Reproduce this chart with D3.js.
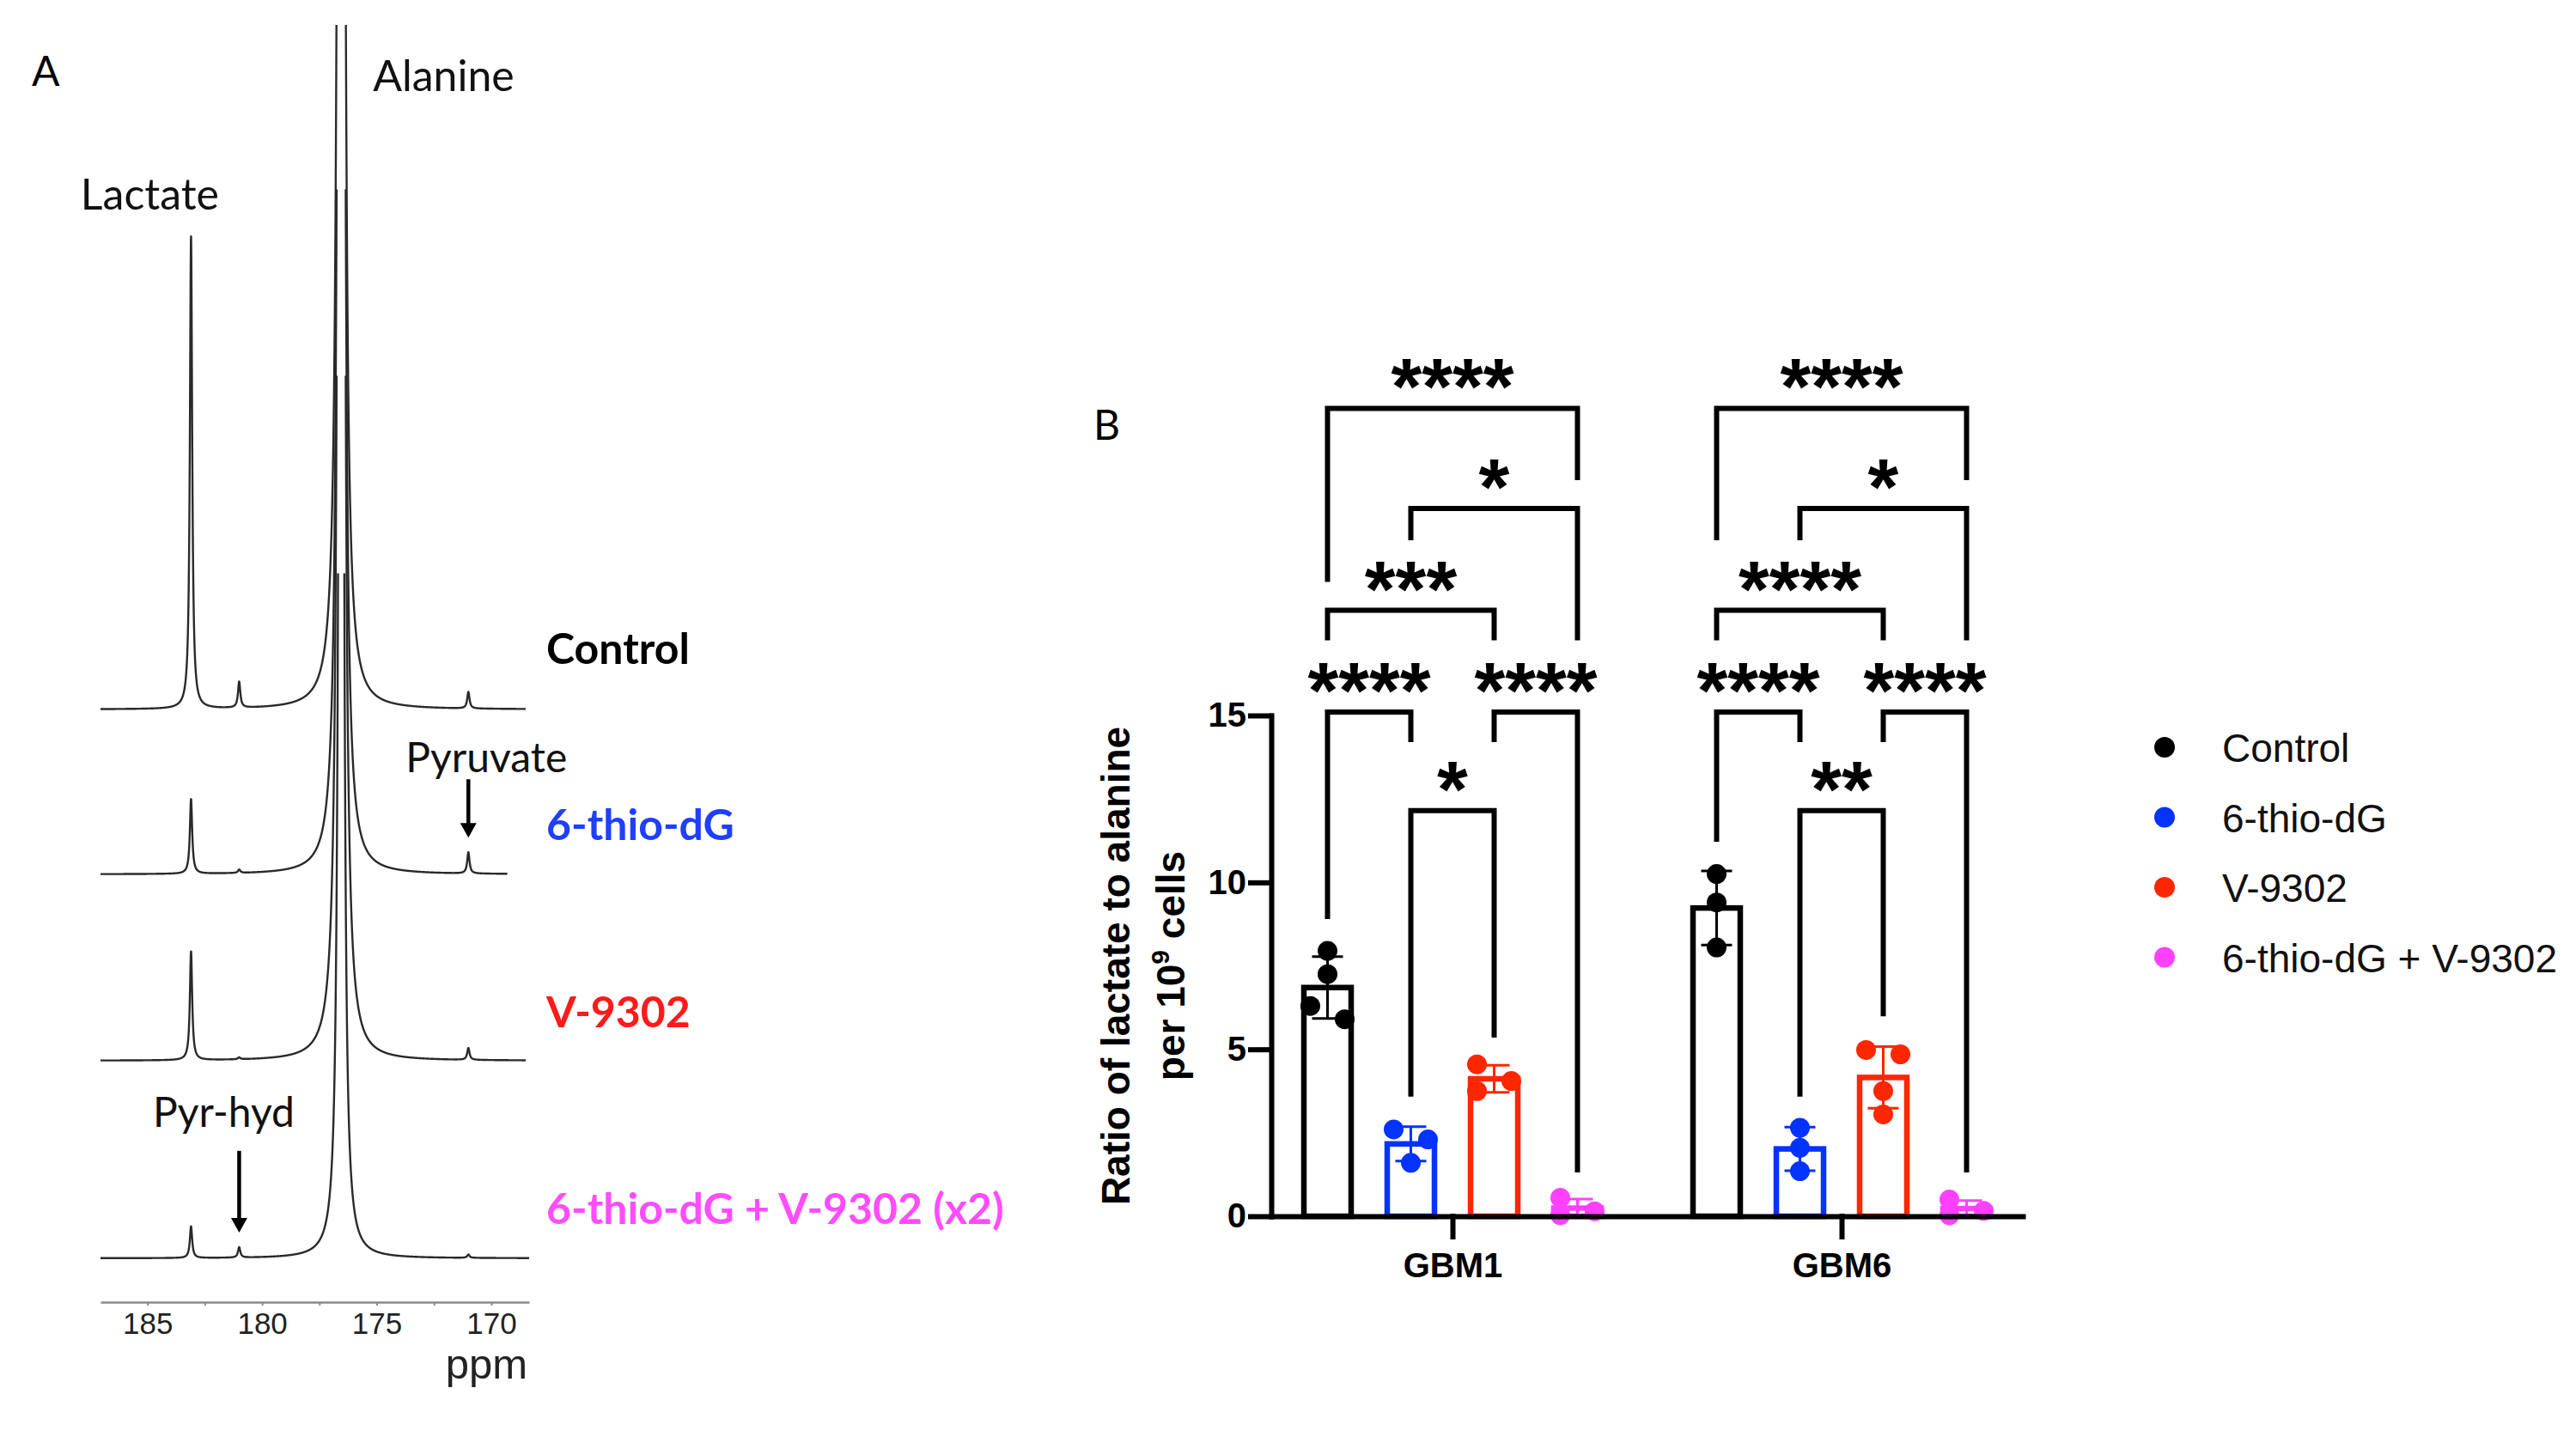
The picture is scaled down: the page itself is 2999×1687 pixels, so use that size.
<!DOCTYPE html>
<html lang="en">
<head>
<meta charset="UTF-8">
<title>Lactate to alanine</title>
<style>
    body { margin: 0; background: #fff; }
    svg { display: block; }
</style>
</head>
<body>
<script src="https://cdnjs.cloudflare.com/ajax/libs/d3/7.8.5/d3.min.js"></script>
<script>
// ---------- panel A : 13C spectra, peak list ----------
let peakNames = ["Lactate", "Pyr-hyd", "Alanine", "Pyruvate"]
let peakPpm = [183.1, 181.0, 176.55, 171.0]
let peakWidth = [0.06, 0.06, 0.07, 0.06]          // half width at half height, ppm
let spectrumNames = ["Control", "6-thio-dG", "V-9302", "6-thio-dG + V-9302 (x2)"]
let controlPeaks = [100, 5.5, 1400, 3.5]           // a.u., control lactate = 100 (alanine is off scale)
let thioPeaks = [15.8, 0.7, 1300, 4.5]
let v9302Peaks = [23, 0.4, 1300, 2.5]
let comboPeaks = [6.7, 2.2, 700, 0.7]
let spectrumStart = [187.05, 187.05, 187.05, 187.05]
let spectrumEnd = [168.5, 169.3, 168.5, 168.35]
let ppmTicks = [185, 182.5, 180, 177.5, 175, 172.5, 170]

// ---------- panel B : lactate / alanine per 1e9 cells ----------
let cellLines = ["GBM1", "GBM6"]
let treatments = ["Control", "6-thio-dG", "V-9302", "6-thio-dG + V-9302"]
let gbm1Values = [[7.95, 7.25, 5.9, 6.3], [2.6, 2.3, 1.6], [4.55, 4.05, 3.75], [0.15, 0.55, 0.03]]
let gbm6Values = [[10.25, 9.4, 8.05], [2.65, 2.05, 1.35], [4.85, 4.98, 3.75, 3.05], [0.03, 0.5, 0.16]]
let yTicks = [0, 5, 10, 15]
// [group a, group b, label, bracket height, leg end a, leg end b]
let gbm1Brackets = [
    [1, 2, "*", 12.15, 3.58, 5.35],
    [0, 1, "****", 15.1, 8.9, 14.2],
    [2, 3, "****", 15.1, 14.2, 1.31],
    [0, 2, "***", 18.15, 17.25, 17.25],
    [1, 3, "*", 21.2, 20.25, 17.25],
    [0, 3, "****", 24.2, 19.0, 22.05]
]
let gbm6Brackets = [
    [1, 2, "**", 12.15, 3.58, 5.99],
    [0, 1, "****", 15.1, 11.22, 14.2],
    [2, 3, "****", 15.1, 14.2, 1.31],
    [0, 2, "****", 18.15, 17.25, 17.25],
    [1, 3, "*", 21.2, 20.25, 17.25],
    [0, 3, "****", 24.2, 20.25, 22.05]
]

let W = 2999, H = 1687
let svg = d3.select("body").append("svg")
    .attr("width", W)
    .attr("height", H)
    .attr("viewBox", `0 0 ${W} ${H}`)

let calibri = "Lato, 'Open Sans', sans-serif"
let arial = "'Liberation Sans', Arial, sans-serif"

// ================= panel A =================
let x = d3.scaleLinear().domain([187.05, 168.35]).range([117, 616])
let inten = d3.scaleLinear().domain([0, 100]).range([0, 550])
let ceiling = 145                                   // each trace is cut at the same height (a.u.)
let baselines = [826, 1018, 1235, 1465]
let allPeaks = [controlPeaks, thioPeaks, v9302Peaks, comboPeaks]
let labelColors = ["#000000", "#1f3fff", "#ff1a1a", "#ff4cff"]
let labelLift = [53, 40, 39, 40]

function intensityAt(ppm, peaks) {
    let s = 0
    peaks.forEach((h, k) => {
        let u = (ppm - peakPpm[k]) / peakWidth[k]
        s += h / (1 + u * u)
    })
    return s
}

let defs = svg.append("defs")
allPeaks.forEach((peaks, i) => {
    let ppms = d3.range(spectrumStart[i], spectrumEnd[i], -0.003)
    let top = Math.max(29, baselines[i] - inten(ceiling))
    defs.append("clipPath").attr("id", "spec" + i)
        .append("rect").attr("x", 0).attr("y", top).attr("width", 1000).attr("height", 1600)
    let line = d3.line()
        .x(p => x(p))
        .y(p => baselines[i] - inten(intensityAt(p, peaks)))
    svg.append("path")
        .datum(ppms)
        .attr("clip-path", `url(#spec${i})`)
        .attr("d", line)
        .attr("fill", "none")
        .attr("stroke", "#2a2a2a")
        .attr("stroke-width", 2.4)
        .attr("stroke-linejoin", "round")
})

// spectrum names
spectrumNames.forEach((name, i) => {
    svg.append("text")
        .attr("x", 636)
        .attr("y", baselines[i] - labelLift[i])
        .attr("font-family", calibri)
        .attr("font-weight", "bold")
        .attr("font-size", 50)
        .attr("fill", labelColors[i])
        .text(name)
})

// peak labels
let lacX = x(peakPpm[0]), alaX = x(peakPpm[2])
svg.append("text").attr("x", lacX - 48).attr("y", 244)
    .attr("text-anchor", "middle").attr("font-family", calibri).attr("font-size", 50)
    .attr("fill", "#111").text(peakNames[0])
svg.append("text").attr("x", alaX + 37).attr("y", 106)
    .attr("font-family", calibri).attr("font-size", 50)
    .attr("fill", "#111").text(peakNames[2])

function arrow(peakIdx, specIdx, len, label, dx, dy) {
    let ax = x(peakPpm[peakIdx])
    let top = baselines[specIdx] - inten(allPeaks[specIdx][peakIdx])
    let tip = top - 18
    let tail = tip - len
    svg.append("line")
        .attr("x1", ax).attr("x2", ax)
        .attr("y1", tail).attr("y2", tip - 14)
        .attr("stroke", "#000").attr("stroke-width", 4.5)
    svg.append("path")
        .attr("d", `M${ax - 9.5},${tip - 17}L${ax + 9.5},${tip - 17}L${ax},${tip}Z`)
        .attr("fill", "#000")
    svg.append("text")
        .attr("x", ax + dx).attr("y", tail + dy)
        .attr("text-anchor", "middle")
        .attr("font-family", calibri).attr("font-size", 48)
        .attr("fill", "#111")
        .text(label)
}
arrow(3, 1, 68, peakNames[3], 21, -8)
arrow(1, 3, 95, peakNames[1], -18, -28)

// ppm axis
let axA = svg.append("g")
    .attr("transform", "translate(0,1516)")
    .call(d3.axisBottom(x).tickValues(ppmTicks).tickSize(4).tickSizeOuter(0).tickPadding(8)
        .tickFormat(d => d % 5 === 0 ? d : ""))
axA.select(".domain").attr("stroke", "#8a8a8a").attr("stroke-width", 2.5)
axA.selectAll(".tick line").attr("stroke", "#8a8a8a").attr("stroke-width", 2)
axA.selectAll(".tick text")
    .attr("font-family", arial).attr("font-size", 35).attr("fill", "#222")
svg.append("text").attr("x", 614).attr("y", 1605)
    .attr("text-anchor", "end").attr("font-family", arial).attr("font-size", 49)
    .attr("fill", "#222").text("ppm")

svg.append("text").attr("x", 37).attr("y", 100)
    .attr("font-family", calibri).attr("font-size", 48).text("A")

// ================= panel B =================
svg.append("text").attr("x", 1273).attr("y", 512)
    .attr("font-family", calibri).attr("font-size", 48).text("B")

let outer = d3.scalePoint().domain(cellLines).range([1480, 2355]).padding(0.4658)
let inner = d3.scaleBand().domain(treatments).range([-194, 194])
let y = d3.scaleLinear().domain([0, 15]).range([1416, 833])
let color = d3.scaleOrdinal().domain(treatments).range(["#000000", "#0433ff", "#ff2600", "#ff40ff"])
let barW = 55, dotR = 11.5, shift = 20

let tableValues = [gbm1Values, gbm6Values]
let tableBrackets = [gbm1Brackets, gbm6Brackets]
let centre = (cell, t) => outer(cell) + inner(treatments[t]) + inner.bandwidth() / 2

let gB = svg.append("g")
cellLines.forEach((cell, ci) => {
    tableValues[ci].forEach((vals, ti) => {
        let cx = centre(cell, ti)
        let c = color(treatments[ti])
        let m = d3.mean(vals), sd = d3.deviation(vals)

        gB.append("rect")
            .attr("x", cx - barW / 2)
            .attr("y", y(m))
            .attr("width", barW)
            .attr("height", y(0) - y(m))
            .attr("fill", "#fff")
            .attr("stroke", c)
            .attr("stroke-width", 6.5)

        // points that touch each other are pushed sideways
        let order = vals.map((v, k) => k).sort((a, b) => vals[b] - vals[a])
        let offs = new Array(vals.length).fill(0)
        let cluster = [order[0]]
        let flush = () => {
            if (cluster.length > 1) cluster.forEach((k, j) => offs[k] = (j % 2 === 0 ? -shift : shift))
        }
        for (let j = 1; j < order.length; j++) {
            let prev = order[j - 1], cur = order[j]
            if (y(vals[cur]) - y(vals[prev]) < 2 * dotR) cluster.push(cur)
            else { flush(); cluster = [cur] }
        }
        flush()

        gB.selectAll(null)
            .data(vals)
            .enter()
            .append("circle")
                .attr("cx", (d, k) => cx + offs[k])
                .attr("cy", d => y(d))
                .attr("r", dotR)
                .attr("fill", c)

        gB.append("path")
            .attr("d", `M${cx},${y(m - sd)}V${y(m + sd)}M${cx - 18},${y(m + sd)}H${cx + 18}M${cx - 18},${y(m - sd)}H${cx + 18}`)
            .attr("stroke", c)
            .attr("stroke-width", 3)
            .attr("fill", "none")
    })

    tableBrackets[ci].forEach(([a, b, label, h, la, lb]) => {
        let xa = centre(cell, a), xb = centre(cell, b)
        gB.append("path")
            .attr("d", `M${xa},${y(la)}V${y(h)}H${xb}V${y(lb)}`)
            .attr("fill", "none")
            .attr("stroke", "#000")
            .attr("stroke-width", 6)
        gB.append("text")
            .attr("x", (xa + xb) / 2)
            .attr("y", y(h) + 7)
            .attr("text-anchor", "middle")
            .attr("font-family", arial)
            .attr("font-weight", "bold")
            .attr("font-size", 92)
            .text(label)
    })
})

let axY = svg.append("g")
    .attr("transform", "translate(1480,0)")
    .call(d3.axisLeft(y).tickValues(yTicks).tickSize(24).tickSizeOuter(0).tickPadding(5))
let axX = svg.append("g")
    .attr("transform", "translate(0,1416)")
    .call(d3.axisBottom(outer).tickSize(24).tickSizeOuter(0).tickPadding(19))
;[axY, axX].forEach(ax => {
    ax.select(".domain").attr("stroke-width", 6).attr("stroke-linecap", "square")
    ax.selectAll(".tick line").attr("stroke-width", 6).attr("stroke-linecap", "square")
    ax.selectAll(".tick text")
        .attr("font-family", arial).attr("font-weight", "bold")
        .attr("font-size", 40).attr("fill", "#000")
})

let title = svg.append("g")
    .attr("font-family", arial).attr("font-weight", "bold").attr("font-size", 46)
    .attr("text-anchor", "middle")
title.append("text")
    .attr("transform", `translate(1315,${(y(0) + y(15)) / 2}) rotate(-90)`)
    .text("Ratio of lactate to alanine")
let t2 = title.append("text")
    .attr("transform", `translate(1379,${(y(0) + y(15)) / 2}) rotate(-90)`)
t2.append("tspan").text("per 10")
t2.append("tspan").attr("font-size", 30).attr("dy", -18).text("9")
t2.append("tspan").attr("dy", 18).text(" cells")

// legend
let leg = svg.append("g")
treatments.forEach((t, i) => {
    let ly = 870 + i * 81.5
    leg.append("circle").attr("cx", 2520).attr("cy", ly).attr("r", 12).attr("fill", color(t))
    leg.append("text").attr("x", 2587).attr("y", ly + 17)
        .attr("font-family", arial).attr("font-size", 46).attr("fill", "#111").text(t)
})
</script>
</body>
</html>
